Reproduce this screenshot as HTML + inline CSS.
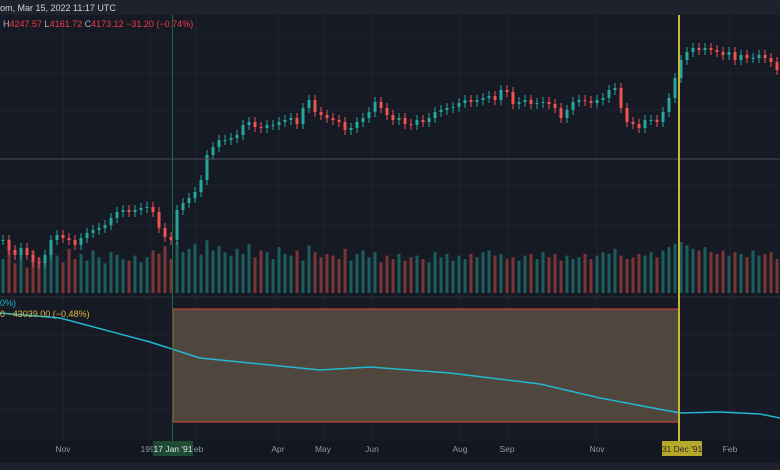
<!DOCTYPE html>
<html><head><meta charset="utf-8">
<style>
html,body{margin:0;padding:0;background:#161a25;}
body{width:780px;height:470px;overflow:hidden;font-family:"Liberation Sans",sans-serif;}
svg{display:block}
</style></head>
<body>
<svg id="chart" width="780" height="470" viewBox="0 0 780 470" xmlns="http://www.w3.org/2000/svg">
<rect x="0" y="0" width="780" height="470" fill="#161a25"/>
<rect x="0" y="0" width="780" height="15" fill="#1e222d"/>
<g id="grid"></g>
<g id="volumes"></g>
<g id="candles"></g>
<line x1="0" y1="159" x2="780" y2="159" stroke="#4a4e58" stroke-width="1"/>
<line x1="0" y1="297" x2="780" y2="297" stroke="#2a2e39" stroke-width="1"/>
<rect x="173" y="309" width="506" height="113" fill="#4f463e" stroke="#e0463c" stroke-width="1"/>
<path id="lower-line" fill="none" stroke="#22b8cf" stroke-width="1.5"/>
<line x1="172.5" y1="15" x2="172.5" y2="441" stroke="#1f6a3c" stroke-width="1"/>
<line x1="679" y1="15" x2="679" y2="441" stroke="#c8b53a" stroke-width="2"/>
<text x="0" y="11" font-size="9" fill="#d1d4dc">om, Mar 15, 2022 11:17 UTC</text>
<text x="3" y="27" font-size="9"><tspan fill="#b2b5be">H</tspan><tspan fill="#f23645">4247.57 </tspan><tspan fill="#b2b5be">L</tspan><tspan fill="#f23645">4161.72 </tspan><tspan fill="#b2b5be">C</tspan><tspan fill="#f23645">4173.12 −31.20 (−0.74%)</tspan></text>
<text x="0" y="306" font-size="9" fill="#22b8cf">0%)</text>
<text x="0" y="317" font-size="9" fill="#e0b83a">0  −43039.00 (−0.48%)</text>
<rect x="0" y="441" width="780" height="22" fill="#131722"/>
<rect x="0" y="463" width="780" height="7" fill="#1f222d"/>
<g id="xlabels"></g>
<rect x="153" y="441" width="40" height="15" fill="#1f4a33"/>
<text x="173" y="452" font-size="8.5" fill="#e0e3eb" text-anchor="middle">17 Jan '91</text>
<rect x="662" y="441" width="40" height="15" fill="#b5a82a"/>
<text x="682" y="452" font-size="8.5" fill="#2a2a1a" text-anchor="middle">31 Dec '91</text>
</svg>
<script>
const closes=[60,50,45,52,45,38,37,45,60,65,62,60,55,62,67,70,72,75,82,88,90,88,90,92,93,88,72,63,60,90,97,102,108,120,145,153,160,160,162,165,175,178,173,172,175,175,178,180,182,176,192,200,188,185,182,180,178,170,172,178,182,188,198,192,185,180,182,176,175,180,178,182,188,190,192,193,197,200,198,200,202,204,200,210,208,196,198,200,196,197,198,196,192,182,190,198,200,199,197,200,202,210,212,192,178,176,172,180,180,178,188,202,222,240,248,252,250,252,250,248,245,248,240,245,242,242,245,242,238,230,232];
const volumes=[40,55,35,45,30,50,42,38,48,44,36,52,40,46,38,50,42,35,48,45,40,38,44,36,42,50,46,55,40,60,48,52,58,45,62,50,55,48,44,52,46,58,42,50,48,40,54,46,44,50,38,56,48,42,46,44,40,52,38,46,50,42,48,36,44,40,46,38,42,44,40,36,48,42,46,38,44,40,46,42,48,50,44,46,40,42,38,44,46,40,48,42,46,38,44,40,42,46,40,44,48,46,52,44,40,42,46,44,48,42,50,54,58,60,56,52,50,54,48,46,50,44,48,46,42,50,44,46,48,40,44];
const lineVals=[313,318,342,358,362,370,367,373,384,398,413,412,414,418];
const lineDates=[0,60,150,200,240,320,370,450,540,600,680,720,760,780];
const tickLabels=["Nov","1991","Feb","Apr","May","Jun","Aug","Sep","Nov","Feb"];
const tickPos=[63,150,196,278,323,372,460,507,597,730];

const NS="http://www.w3.org/2000/svg";
const xScale=i=>3+i*6;
const yPrice=v=>300-v;
const yVolBase=293;
const volScale=v=>v*0.85;
function mk(tag,attrs,parent){const e=document.createElementNS(NS,tag);for(const k in attrs)e.setAttribute(k,attrs[k]);parent.appendChild(e);return e;}

const grid=document.getElementById('grid');
tickPos.forEach(x=>{const l=mk('line',{x1:x,y1:15,x2:x,y2:441,stroke:'#1f2330','stroke-width':1},grid);

});
[35,73,110,185,225,262,335,375,410].forEach(y=>{const l=mk('line',{x1:0,y1:y,x2:780,y2:y,stroke:'#1f2330','stroke-width':1},grid);

});

const cg=document.getElementById('candles'),vg=document.getElementById('volumes');
closes.forEach((c,i)=>{
 const o=i>0?closes[i-1]:c;
 const up=c>=o;const col=up?'#26a69a':'#ef5350';
 const x=xScale(i);
 const top=yPrice(Math.max(o,c)),bot=yPrice(Math.min(o,c));
 const w=mk('line',{x1:x,y1:top-5,x2:x,y2:bot+5,stroke:col,'stroke-width':1},cg);
 
 
 const r=mk('rect',{x:x-1.5,y:top,width:3,height:Math.max(1,bot-top),fill:col},cg);
 
 
 const h=volScale(volumes[i]);
 const vb=mk('rect',{x:x-1.5,y:yVolBase-h,width:3,height:h,fill:up?'#1c5e5a':'#7a3535'},vg);
 
 
});

document.getElementById('lower-line').setAttribute('d',lineVals.map((v,i)=>(i?'L':'M')+lineDates[i]+' '+v).join(' '));

const xl=document.getElementById('xlabels');
tickLabels.forEach((t,i)=>{const e=mk('text',{x:tickPos[i],y:452,'font-size':8.5,fill:'#9598a1','text-anchor':'middle'},xl);e.textContent=t;

});
</script>
</body></html>
